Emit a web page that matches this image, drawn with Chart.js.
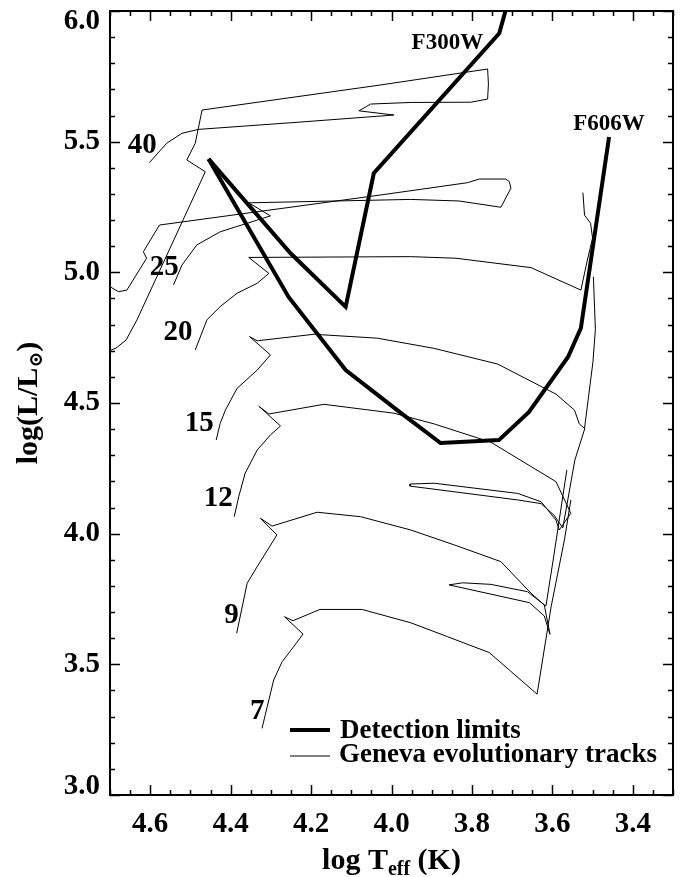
<!DOCTYPE html>
<html>
<head>
<meta charset="utf-8">
<script src="https://cdn.jsdelivr.net/npm/chart.js@4.4.1/dist/chart.umd.min.js"></script>
<style>
  html, body { margin: 0; padding: 0; background: #fff; }
  #hr-chart { display: block; }
</style>
</head>
<body>
<canvas id="hr-chart" width="680" height="877"></canvas>
<script>
// axis ticks (log Teff runs backwards)
const xTicks = [4.6, 4.4, 4.2, 4.0, 3.8, 3.6, 3.4];
const yTicks = [3.0, 3.5, 4.0, 4.5, 5.0, 5.5, 6.0];
const xMinorStep = 0.05;
const yMinorStep = 0.1;

// detection limits
const f300T = [4.455, 4.251, 4.114, 4.044, 3.732, 3.713];
const f300L = [5.434, 5.073, 4.868, 5.379, 5.915, 6.020];
const f606T = [4.455, 4.256, 4.114, 3.977, 3.878, 3.733, 3.658, 3.561, 3.529, 3.459];
const f606L = [5.434, 4.906, 4.626, 4.462, 4.347, 4.358, 4.466, 4.676, 4.787, 5.518];

// Geneva tracks, log Teff / log L
const t40 = [4.602, 4.559, 4.521, 4.480, 4.227, 3.994, 4.081, 4.052, 3.952, 3.803, 3.761, 3.759, 3.761, 4.027, 4.471, 4.488, 4.509, 4.463, 4.633, 4.660, 4.685, 4.700];
const l40 = [5.420, 5.494, 5.532, 5.547, 5.575, 5.602, 5.618, 5.644, 5.650, 5.651, 5.663, 5.721, 5.778, 5.717, 5.621, 5.494, 5.430, 5.385, 4.818, 4.741, 4.710, 4.701];

const t25 = [4.542, 4.521, 4.484, 4.426, 4.334, 4.301, 4.355, 3.952, 3.832, 3.728, 3.703, 3.707, 3.716, 3.782, 3.811, 4.027, 4.577, 4.617, 4.609, 4.658, 4.679, 4.700];
const l25 = [4.952, 5.028, 5.105, 5.155, 5.200, 5.216, 5.266, 5.279, 5.273, 5.249, 5.322, 5.347, 5.357, 5.357, 5.343, 5.296, 5.181, 5.079, 5.054, 4.932, 4.926, 4.945];

const t20 = [4.488, 4.459, 4.426, 4.384, 4.334, 4.305, 4.355, 3.952, 3.840, 3.653, 3.529, 3.514, 3.500, 3.505, 3.520, 3.524];
const l20 = [4.703, 4.818, 4.869, 4.920, 4.958, 4.996, 5.057, 5.060, 5.054, 5.018, 4.932, 5.040, 5.131, 5.188, 5.219, 5.305];

const t15 = [4.436, 4.426, 4.413, 4.384, 4.334, 4.301, 4.353, 4.334, 4.193, 4.035, 3.894, 3.736, 3.591, 3.545, 3.533, 3.520, 3.499, 3.493, 3.498];
const l15 = [4.358, 4.422, 4.473, 4.556, 4.626, 4.684, 4.754, 4.738, 4.763, 4.748, 4.709, 4.649, 4.534, 4.473, 4.420, 4.403, 4.658, 4.782, 4.983];

const t12 = [4.391, 4.380, 4.364, 4.334, 4.301, 4.276, 4.330, 4.305, 4.168, 3.994, 3.894, 3.753, 3.591, 3.554, 3.583, 3.591, 3.628, 3.686, 3.894, 3.954, 3.954, 3.686, 3.628, 3.596, 3.574, 3.544, 3.519];
const l12 = [4.065, 4.141, 4.231, 4.320, 4.378, 4.412, 4.488, 4.458, 4.495, 4.461, 4.420, 4.350, 4.199, 4.078, 4.014, 4.052, 4.122, 4.154, 4.193, 4.190, 4.182, 4.129, 4.115, 4.071, 4.022, 4.282, 4.404];

const t9 = [4.385, 4.359, 4.334, 4.285, 4.326, 4.297, 4.185, 4.077, 3.952, 3.844, 3.728, 3.653, 3.620, 3.606, 3.620, 3.657, 3.857, 3.823, 3.753, 3.662, 3.616, 3.598, 3.564];
const l9 = [3.619, 3.810, 3.874, 3.995, 4.059, 4.029, 4.082, 4.065, 4.014, 3.957, 3.893, 3.772, 3.727, 3.615, 3.685, 3.736, 3.804, 3.812, 3.806, 3.778, 3.723, 3.899, 4.244];

const t7 = [4.322, 4.309, 4.293, 4.272, 4.243, 4.220, 4.266, 4.245, 4.178, 4.073, 3.952, 3.861, 3.757, 3.638, 3.603, 3.570, 3.554];
const l7 = [3.255, 3.338, 3.440, 3.510, 3.568, 3.616, 3.682, 3.667, 3.710, 3.710, 3.659, 3.606, 3.545, 3.386, 3.721, 3.976, 4.129];

// in-plot labels
const massLabels = ['40', '25', '20', '15', '12', '9', '7'];
const massLabelT = [4.620, 4.565, 4.531, 4.478, 4.431, 4.398, 4.334];
const massLabelL = [5.487, 5.017, 4.768, 4.423, 4.133, 3.685, 3.321];
const filterLabels = ['F300W', 'F606W'];
const filterLabelT = [3.861, 3.459];
const filterLabelL = [5.879, 5.568];
const legendLabels = ['Detection limits', 'Geneva evolutionary tracks'];

const SERIF = "'Liberation Serif', 'DejaVu Serif', serif";

function toPoints(ts, ls) {
  return ts.map((t, i) => ({ x: t, y: ls[i] }));
}

function lineSet(ts, ls, width) {
  return {
    data: toPoints(ts, ls),
    showLine: true,
    borderColor: '#000',
    borderWidth: width,
    pointRadius: 0,
    tension: 0,
    clip: 0
  };
}

// draws pieces like [['log T', 30, 0], ['eff', 20, 7]] side by side
function drawPieces(ctx, pieces, cx, baseY) {
  let total = 0;
  pieces.forEach(p => {
    ctx.font = `bold ${p[1]}px ${SERIF}`;
    total += ctx.measureText(p[0]).width;
  });
  let x = cx - total / 2;
  pieces.forEach(p => {
    ctx.font = `bold ${p[1]}px ${SERIF}`;
    ctx.fillText(p[0], x, baseY + p[2]);
    x += ctx.measureText(p[0]).width;
  });
}

const framePlugin = {
  id: 'frame',
  afterDatasetsDraw(chart) {
    const { ctx, chartArea: a, scales: { x, y } } = chart;
    ctx.save();
    ctx.strokeStyle = '#000';
    ctx.lineWidth = 1.5;
    ctx.beginPath();
    // x ticks, bottom and top
    for (let i = Math.ceil(x.min / xMinorStep - 1e-6); i * xMinorStep <= x.max + 1e-6; i++) {
      const v = i * xMinorStep;
      const major = xTicks.some(t => Math.abs(t - v) < 1e-6);
      const len = major ? 10 : 5;
      const px = Math.round(x.getPixelForValue(v)) + 0.5;
      ctx.moveTo(px, a.bottom); ctx.lineTo(px, a.bottom - len);
      ctx.moveTo(px, a.top); ctx.lineTo(px, a.top + len);
    }
    // y ticks, left and right
    for (let i = Math.ceil(y.min / yMinorStep - 1e-6); i * yMinorStep <= y.max + 1e-6; i++) {
      const v = i * yMinorStep;
      const major = yTicks.some(t => Math.abs(t - v) < 1e-6);
      const len = major ? 10 : 5;
      const py = Math.round(y.getPixelForValue(v)) + 0.5;
      ctx.moveTo(a.left, py); ctx.lineTo(a.left + len, py);
      ctx.moveTo(a.right, py); ctx.lineTo(a.right - len, py);
    }
    ctx.stroke();
    ctx.lineWidth = 2;
    ctx.strokeRect(a.left, a.top, a.right - a.left, a.bottom - a.top);
    ctx.restore();
  },
  afterDraw(chart) {
    const { ctx, chartArea: a, scales: { x, y } } = chart;
    ctx.save();
    ctx.fillStyle = '#000';

    // y tick labels, end ones kept inside the frame height
    ctx.font = `bold 29px ${SERIF}`;
    ctx.textAlign = 'right';
    ctx.textBaseline = 'middle';
    yTicks.forEach(v => {
      const py = Math.min(Math.max(y.getPixelForValue(v), a.top + 11), a.bottom - 8);
      ctx.fillText(v.toFixed(1), a.left - 10, py);
    });

    ctx.textAlign = 'center';
    // mass labels
    massLabels.forEach((m, i) => {
      ctx.fillText(m, x.getPixelForValue(massLabelT[i]), y.getPixelForValue(massLabelL[i]));
    });
    // filter labels
    ctx.font = `bold 23px ${SERIF}`;
    filterLabels.forEach((f, i) => {
      ctx.fillText(f, x.getPixelForValue(filterLabelT[i]), y.getPixelForValue(filterLabelL[i]));
    });

    // legend, lower right
    ctx.textAlign = 'left';
    ctx.textBaseline = 'alphabetic';
    ctx.strokeStyle = '#000';
    const lx0 = a.left + 180, lx1 = a.left + 220;
    const rows = [a.bottom - 65, a.bottom - 39];
    [4, 1].forEach((w, i) => {
      ctx.lineWidth = w;
      ctx.beginPath();
      ctx.moveTo(lx0, rows[i]);
      ctx.lineTo(lx1, rows[i]);
      ctx.stroke();
    });
    ctx.font = `bold 27px ${SERIF}`;
    ctx.fillText(legendLabels[0], a.left + 230, rows[0] + 8);
    ctx.fillText(legendLabels[1], a.left + 229, rows[1] + 6);

    // axis titles with subscripts
    drawPieces(ctx, [['log T', 30, 0], ['eff', 20, 6], [' (K)', 30, 0]], (a.left + a.right) / 2, 869);
    ctx.translate(37, (a.top + a.bottom) / 2);
    ctx.rotate(-Math.PI / 2);
    drawPieces(ctx, [['log(L/L', 30, 0], ['\u2299', 19, 5], [')', 30, 0]], 0, 0);
    ctx.restore();
  }
};

const datasets = [
  lineSet(f300T, f300L, 4),
  lineSet(f606T, f606L, 4),
  lineSet(t40, l40, 1),
  lineSet(t25, l25, 1),
  lineSet(t20, l20, 1),
  lineSet(t15, l15, 1),
  lineSet(t12, l12, 1),
  lineSet(t9, l9, 1),
  lineSet(t7, l7, 1)
];

const tickFont = { family: SERIF, size: 29, weight: 'bold' };

new Chart(document.getElementById('hr-chart'), {
  type: 'scatter',
  data: { datasets },
  options: {
    responsive: false,
    animation: false,
    devicePixelRatio: 1,
    layout: { padding: { left: 0, top: 11, right: 7, bottom: 0 } },
    plugins: { legend: { display: false }, tooltip: { enabled: false } },
    scales: {
      x: {
        type: 'linear',
        min: 3.3,
        max: 4.7,
        reverse: true,
        afterBuildTicks: s => { s.ticks = xTicks.map(v => ({ value: v })); },
        afterFit: s => { s.height = 82; s.paddingLeft = 0; s.paddingRight = 0; },
        grid: { display: false, drawTicks: false },
        border: { display: false },
        ticks: { font: tickFont, color: '#000', padding: 12, maxRotation: 0, callback: v => Number(v).toFixed(1) }
      },
      y: {
        type: 'linear',
        min: 3.0,
        max: 6.0,
        afterBuildTicks: s => { s.ticks = yTicks.map(v => ({ value: v })); },
        afterFit: s => { s.width = 110; s.paddingTop = 0; s.paddingBottom = 0; },
        grid: { display: false, drawTicks: false },
        border: { display: false },
        // labels are drawn by the frame plugin so the end ones can be nudged in
        ticks: { display: false }
      }
    }
  },
  plugins: [framePlugin]
});
</script>
</body>
</html>
